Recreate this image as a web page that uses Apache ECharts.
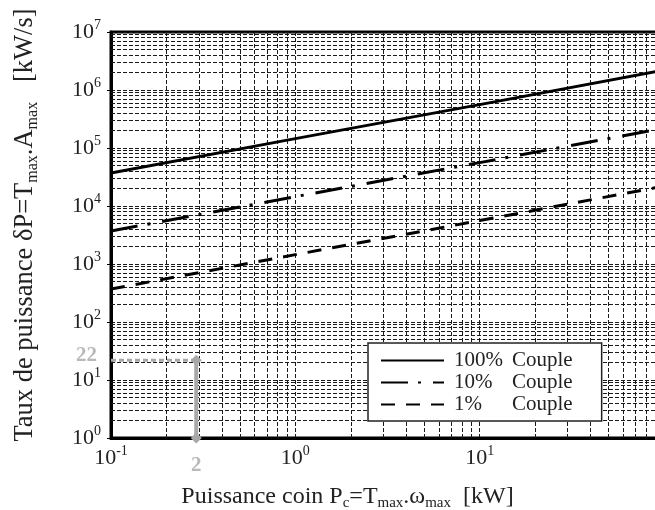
<!DOCTYPE html>
<html><head><meta charset="utf-8">
<script src="https://cdn.jsdelivr.net/npm/echarts@6/dist/echarts.min.js"></script>
<style>html,body{margin:0;padding:0;background:#fff}#c{width:655px;height:510px}</style>
</head><body><div id="c"></div>
<script>
// Data
const pc = [0.1, 1, 10, 100];                    // Puissance coin [kW]
const couple100 = [37000, 145000, 560000, 2200000];
const couple10  = [3700, 14500, 56000, 220000];
const couple1   = [370, 1450, 5600, 22000];
const seriesNames = ['100% Couple', '10% Couple', '1% Couple'];
const markX = [0.29, 0.29];   // gray annotation marker position
const markY = [1, 22];
const markLabels = ['2', '22'];

// minor grid positions (2..9 per decade)
const xGridMinor = [];
for (let d = -1; d < 2; d++) for (let k = 2; k <= 9; k++) xGridMinor.push(k * Math.pow(10, d));
const yGridMinor = [];
for (let d = 0; d < 7; d++) for (let k = 2; k <= 9; k++) yGridMinor.push(k * Math.pow(10, d));

const FONT = 'Liberation Serif';
const TXT = '#222';
const GRIDC = '#1a1a1a';

function pow10Label(v) {
  const e = Math.round(Math.log10(v));
  if (e >= 2 && v > 50 && v < 1000) return '';
  return '{b|10}{s|' + e + '}';
}
function pow10LabelY(v) {
  const e = Math.round(Math.log10(v));
  return '{b|10}{s|' + e + '}';
}
const richSup = {
  b: {fontSize: 22, fontFamily: FONT, color: TXT},
  s: {fontSize: 14, fontFamily: FONT, color: TXT, padding: [0, 0, 14, 0]}
};
function richName(fs) {
  return {
    n: {fontSize: fs, fontFamily: FONT, color: TXT},
    u: {fontSize: Math.round(fs * 0.62), fontFamily: FONT, color: TXT, padding: [Math.round(fs * 0.6), 0, 0, 0]}
  };
}

const gridLines = [].concat(
  xGridMinor.map(v => ({xAxis: v})),
  yGridMinor.map(v => ({yAxis: v}))
);

const chart = echarts.init(document.getElementById('c'), null, {renderer: 'canvas'});
chart.setOption({
  animation: false,
  backgroundColor: '#fff',
  grid: {left: 111, top: 32, right: -9, bottom: 72, outerBoundsMode: 'none', containLabel: false,
         show: true, borderColor: '#000', borderWidth: 3, backgroundColor: 'transparent'},
  legend: {
    data: seriesNames,
    orient: 'vertical',
    left: 368, top: 343,
    backgroundColor: '#fff', borderColor: '#222', borderWidth: 1.5, borderRadius: 0,
    padding: [7, 29, 6, 12],
    itemWidth: 63, itemHeight: 14, itemGap: 1,
    itemStyle: {opacity: 0},
    formatter: function (name) {
      const p = name.split(' ');
      return '{p|' + p[0] + '}{c|' + p[1] + '}';
    },
    textStyle: {
      fontFamily: FONT, fontSize: 21, color: TXT, padding: [0, 0, 0, 5],
      rich: {
        p: {fontFamily: FONT, fontSize: 21, color: TXT, width: 58, lineHeight: 21},
        c: {fontFamily: FONT, fontSize: 21, color: TXT, lineHeight: 21}
      }
    }
  },
  xAxis: {
    type: 'log', logBase: 10, min: 0.1, max: 100,
    name: '{n|Puissance coin P}{u|c}{n|=T}{u|max}{n|.ω}{u|max}{n|  [kW]}',
    nameLocation: 'middle', nameGap: 44,
    nameTextStyle: {rich: richName(24), padding: [0, 80, 0, 0]},
    axisLine: {show: true, lineStyle: {color: '#000', width: 3}},
    axisTick: {show: false},
    axisLabel: {formatter: pow10Label, rich: richSup, margin: 6},
    splitLine: {show: true, lineStyle: {color: GRIDC, width: 1, type: [4, 2]}}
  },
  yAxis: {
    type: 'log', logBase: 10, min: 1, max: 10000000,
    name: '{n|Taux de puissance δP=T}{u|max}{n|.A}{u|max}{n|   [kW/s]}',
    nameLocation: 'middle', nameGap: 70, nameRotate: 90,
    nameTextStyle: {rich: richName(26.5), padding: [0, 0, 0, 20]},
    axisLine: {show: true, lineStyle: {color: '#000', width: 3}},
    axisTick: {show: true, inside: false, length: 4, lineStyle: {color: '#000', width: 1}},
    axisLabel: {formatter: pow10LabelY, rich: richSup, margin: 10},
    splitLine: {show: true, lineStyle: {color: GRIDC, width: 1, type: [4, 2]}}
  },
  series: [
    {
      name: seriesNames[0], type: 'line', symbol: 'none', z: 3,
      data: pc.map((x, i) => [x, couple100[i]]),
      lineStyle: {color: '#000', width: 3, type: 'solid'},
      itemStyle: {color: '#000'},
      markLine: {
        silent: true, symbol: ['none', 'none'], z: 1, animation: false,
        label: {show: false},
        lineStyle: {color: GRIDC, width: 1, type: [4, 2]},
        emphasis: {disabled: true},
        data: gridLines
      }
    },
    {
      name: seriesNames[1], type: 'line', symbol: 'none', z: 3,
      data: pc.map((x, i) => [x, couple10[i]]),
      lineStyle: {color: '#000', width: 3, type: [27, 10, 3, 12]},
      itemStyle: {color: '#000'}
    },
    {
      name: seriesNames[2], type: 'line', symbol: 'none', z: 3,
      data: pc.map((x, i) => [x, couple1[i]]),
      lineStyle: {color: '#000', width: 3, type: [14, 11]},
      itemStyle: {color: '#000'}
    },
    {
      name: 'h', type: 'line', symbol: 'none', clip: false, z: 4,
      data: [[pc[0], markY[1]], [markX[1], markY[1]]],
      lineStyle: {color: '#a8a8a8', width: 3, type: [5, 3]}
    },
    {
      name: 'v', type: 'line', symbol: 'diamond', symbolSize: 11, clip: false, z: 5,
      showSymbol: true,
      data: markX.map((x, i) => [x, markY[i]]),
      lineStyle: {color: '#a8a8a8', width: 4},
      itemStyle: {color: '#a8a8a8'}
    },
    {
      name: 'labels', type: 'scatter', symbolSize: 0, clip: false, z: 6,
      data: [
        {value: [markX[0], markY[0]], label: {show: true, formatter: markLabels[0], position: 'bottom', distance: 17}},
        {value: [pc[0], markY[1]], label: {show: true, formatter: markLabels[1], position: 'left', distance: 14, offset: [0, -5]}}
      ],
      label: {fontFamily: FONT, fontSize: 21, fontWeight: 'bold', color: '#a8a8a8'}
    }
  ]
});
</script>
</body></html>
